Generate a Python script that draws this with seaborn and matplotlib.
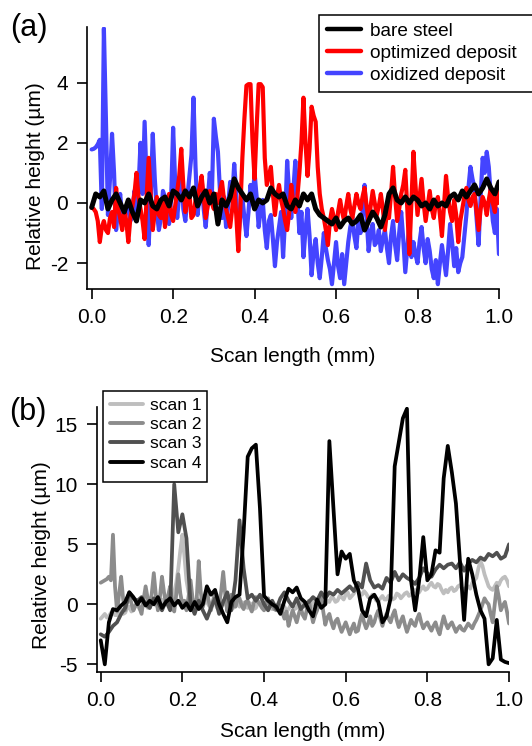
import numpy as np
import pandas as pd
import matplotlib
matplotlib.use("Agg")
import matplotlib.pyplot as plt
from matplotlib.patches import Rectangle
from matplotlib.ticker import FormatStrFormatter
import seaborn as sns

# (a) profiles; bare steel every 0.01 mm, deposits every 0.005 mm
bare_steel = [
    -0.15, 0.3, 0.2, 0.4, -0.2, 0.1, 0.3, 0.0, -0.3, 0.1,
    -0.3, -0.6, 0.1, 0.0, 0.3, -0.1, -0.2, 0.1, 0.2, -0.1,
    0.4, 0.3, 0.1, 0.4, 0.2, 0.5, -0.1, 0.2, 0.4, 0.0,
    0.3, -0.7, 0.1, -0.1, 0.2, 0.8, 0.5, 0.3, 0.1, 0.3,
    -0.2, 0.1, 0.0, 0.1, 0.5, 0.3, 0.2, 0.3, -0.1, -0.2,
    0.1, -0.1, 0.3, 0.1, 0.3, -0.2, -0.4, -0.5, -0.6, -0.7,
    -0.5, -0.8, -0.6, -0.5, -0.7, -0.6, -0.4, -0.9, -0.6, -0.3,
    -0.5, -0.8, -0.4, 0.3, 0.5, 0.1, 0.0, 0.2, 0.0, 0.2,
    0.1, -0.1, 0.0, -0.2, 0.1, -0.1, 0.0, -0.1, 0.2, 0.3,
    0.1, 0.4, 0.2, 0.4, 0.6, 0.3, 0.5, 0.8, 0.5, 0.3,
    0.7]
optimized = [
    -0.15, -0.2, -0.3, -0.6, -1.3, -0.8, -0.6, -0.9, -1.0, -0.5,
    -0.3, -0.8, 0.5, -0.2, -0.5, -0.9, -0.2, -0.6, -1.3, -0.5,
    -0.1, 0.3, 1.0, 0.2, -0.2, -0.6, -1.2, 0.2, 1.5, 0.3,
    -0.9, -0.3, 0.2, -0.4, -0.5, 0.1, -0.8, -0.2, 0.3, -0.4,
    -0.6, -0.1, 0.4, 0.9, 1.8, 0.6, -0.3, 0.2, 0.3, -0.5,
    -0.4, 0.1, 0.2, 0.5, 0.9, 0.2, -0.5, -0.1, 0.4, 0.0,
    -0.2, 0.3, 0.0, 0.4, 0.7, 0.1, -0.2, -0.5, -0.8, -0.2,
    0.5, -0.4, -1.6, -0.2, 1.5, 2.8, 3.9, 3.95, 3.95, 2.0,
    0.8, 2.5, 3.95, 3.95, 3.85, 1.5, 0.6, 0.9, 1.2, 0.3,
    -0.4, 0.2, 0.6, 0.1, -0.2, -0.6, -0.9, -0.3, 0.6, 0.0,
    -0.3, 0.2, 1.0, 2.0, 3.5, 2.0, 0.9, 1.8, 3.2, 2.9,
    2.7, 1.2, 0.3, -0.2, -0.5, -0.9, -1.4, -0.6, -0.2, -0.5,
    -0.9, -0.3, 0.1, -0.3, -0.6, -0.1, 0.3, -0.2, -0.5, -0.1,
    0.3, 0.0, -0.2, 0.2, 0.5, -0.1, -0.6, -0.1, 0.4, 0.0,
    -0.4, -0.1, 0.3, -0.2, -0.9, -0.3, -0.5, 0.3, 1.2, 0.2,
    -0.6, -0.2, 0.3, 0.6, 1.1, -0.2, -1.7, 0.0, 1.7, 0.6,
    -0.4, 0.2, 0.8, 0.0, -0.6, -0.1, 0.4, -0.2, -0.5, 0.0,
    0.2, -0.4, -1.1, -0.1, 0.9, 0.2, -0.3, -0.6, 0.1, -0.4,
    -1.3, -0.6, -0.2, 0.2, 0.5, 0.1, -0.1, 0.2, 0.3, -0.3,
    -0.9, -0.2, 0.2, 0.0, -0.4, 0.1, 0.5, 0.0, -0.3, 0.4,
    0.0]
oxidized = [
    1.78, 1.8, 1.85, 1.95, 2.1, -0.2, 5.8, 2.8, -0.4, 0.8,
    2.3, 1.0, -0.9, -0.2, 0.3, -0.5, -0.7, -0.1, 0.0, -0.6,
    -0.3, 0.4, -0.6, 0.5, 2.0, 0.3, 2.7, 0.6, -1.4, 0.2,
    2.3, 0.8, -0.3, -0.9, -0.5, 0.4, 0.2, -0.2, -0.7, 0.1,
    2.5, 0.7, -0.5, 0.3, 1.3, -0.2, -0.6, 0.2, 0.9, 1.6,
    3.5, 1.2, -0.4, 0.3, 0.8, -0.2, -0.8, 0.1, 1.0, 0.2,
    2.8, 2.2, 1.7, 0.4, -0.5, 0.2, -0.8, -0.1, 0.7, 0.1,
    1.3, 0.3, -1.2, -0.4, 0.2, -0.5, -1.1, -0.3, 0.6, 0.1,
    1.0, 0.2, -0.8, -0.2, 0.1, -0.9, -1.5, -0.6, -0.4, -1.2,
    -2.1, -1.3, -0.8, -0.3, -1.8, -0.5, 1.4, 0.3, -0.5, 0.4,
    1.4, 0.2, -1.0, -0.3, -1.8, -0.9, -0.2, -1.1, -2.4, -1.6,
    -1.2, -2.0, -2.5, -1.8, -1.0, -1.5, -1.9, -2.2, -2.7, -2.0,
    -1.3, -2.1, -2.5, -1.7, -2.7, -2.0, -1.3, -0.8, -0.5, -1.1,
    -1.5, -0.6, -1.0, -0.3, 0.6, -0.5, -1.6, -1.0, -0.7, -1.4,
    -1.3, -0.9, -1.6, -1.2, -0.9, -1.5, -2.0, -1.1, -0.6, -1.4,
    -1.9, -1.0, -0.3, -1.2, -2.3, -1.5, -0.7, -1.8, -1.3, -1.7,
    -2.0, -1.3, -0.8, -1.5, -2.0, -1.2, -1.6, -2.2, -2.5, -1.9,
    -2.7, -2.0, -1.4, -1.9, -2.4, -1.6, -0.7, -1.3, -2.1, -1.5,
    -2.3, -2.0, -1.8, -1.1, -0.4, 0.5, 1.2, 0.8, 0.5, -0.5,
    -1.4, 0.2, 1.5, 1.0, 1.7, 1.2, 0.2, -0.6, -1.0, -0.2,
    -1.7]

# (b) repeated scans; scans 1-2 every 0.005 mm, scans 3-4 every 0.01 mm
scan1 = [
    -1.2, -1.0, -0.8, -1.1, -1.0, -0.7, -0.6, -0.9, -0.9, -0.5,
    -0.4, -0.8, -0.7, -0.3, -0.2, -0.6, -0.5, -0.1, 0.0, -0.4,
    -0.3, 0.1, 0.2, -0.3, -0.2, 0.1, 0.3, -0.1, 0.0, 0.3,
    0.4, 0.0, 0.1, 0.4, 0.2, 0.5, 1.0, 1.8, 3.0, 4.5,
    5.8, 4.0, 2.0, 1.0, 0.5, 0.2, 0.0, 0.5, 0.4, 0.0,
    -0.2, 0.3, 0.2, -0.1, -0.3, 0.2, 0.1, -0.3, -0.1, 0.2,
    0.3, 0.0, -0.2, 0.1, 0.0, -0.3, 0.2, 0.0, -0.2, 0.2,
    0.1, -0.2, -0.3, 0.1, 0.0, -0.4, -0.3, 0.1, 0.2, -0.1,
    -0.2, 0.2, 0.1, -0.3, -0.4, 0.0, -0.1, -0.3, -0.5, -0.1,
    -0.2, -0.6, -0.4, -0.1, 0.0, -0.4, -0.3, 0.1, 0.2, -0.1,
    -0.2, 0.1, 0.0, -0.3, 0.2, 0.0, -0.1, 0.2, 0.3, 0.0,
    0.0, 0.3, 0.2, 0.6, 0.5, 0.2, 0.3, 0.7, 0.6, 0.4,
    0.8, 1.0, 0.5, 0.7, 0.9, 1.3, 1.2, 0.9, 0.8, 1.1,
    0.9, 0.6, 0.5, 0.8, 0.6, 0.3, 0.3, 0.5, 0.7, 0.4,
    0.4, 0.7, 0.6, 0.4, 0.5, 0.9, 0.8, 0.5, 0.7, 0.9,
    1.0, 0.7, 0.8, 1.1, 1.2, 0.9, 1.0, 1.3, 1.5, 1.2,
    1.3, 1.6, 1.8, 1.5, 1.4, 1.7, 1.6, 1.2, 0.9, 1.2,
    1.0, 1.3, 1.4, 1.1, 1.2, 1.5, 1.6, 1.3, 1.2, 1.4,
    1.5, 1.3, 1.8, 2.0, 2.2, 3.0, 3.6, 3.2, 2.5, 2.0,
    1.5, 1.3, 1.2, 1.5, 1.8, 1.6, 2.0, 2.2, 2.3, 2.0,
    1.5]
scan2 = [
    1.8, 1.9, 2.0, 2.1, 2.3, 2.0, 5.8, 1.5, -0.6, 0.8,
    2.3, 0.4, -0.5, 0.2, 0.8, 0.1, -0.5, -0.1, 0.2, -0.3,
    -0.8, 0.4, 1.5, 0.5, -0.3, 0.9, 2.6, 0.8, -0.5, 0.6,
    2.3, 1.0, 0.0, 0.7, 1.5, 0.2, -0.6, 0.8, 2.5, 0.9,
    0.0, 0.3, -0.5, 0.6, 2.0, 0.5, -0.3, 0.4, 3.6, 1.0,
    -0.2, 0.5, 1.2, 0.2, -0.5, 0.3, 1.0, 0.4, 0.0, 1.1,
    2.7, 0.8, -0.6, 0.2, 0.8, 0.2, -0.2, 0.4, 0.5, -0.1,
    -0.4, 0.2, 0.3, -0.2, -0.6, 0.1, 0.6, 0.2, 0.0, -0.3,
    -0.5, 0.1, 0.5, -0.2, 0.1, -0.4, -0.5, 0.0, -0.1, -0.7,
    -1.2, -0.6, -1.8, -1.1, -0.5, -1.0, -1.5, -0.8, -0.3, -0.9,
    -1.2, -0.4, 0.3, -0.7, -1.5, -0.9, -0.5, 0.1, 0.6, -0.6,
    -1.7, -1.1, -0.8, -1.5, -2.0, -1.4, -1.2, -1.8, -2.3, -1.9,
    -1.5, -2.0, -2.5, -2.0, -1.6, -2.3, -2.2, -1.4, -0.8, -1.5,
    -2.0, -1.6, -1.0, -1.8, -1.5, -0.9, -0.5, -1.2, -1.8, -1.2,
    -0.8, -1.2, -1.5, -0.9, -0.5, -1.3, -1.9, -1.4, -1.0, -1.7,
    -2.3, -1.8, -1.3, -1.6, -1.8, -1.2, -0.8, -1.5, -2.0, -1.7,
    -1.5, -1.9, -2.2, -1.8, -1.5, -2.1, -2.5, -1.7, -1.0, -1.6,
    -2.0, -1.7, -1.5, -1.9, -2.3, -2.0, -1.8, -2.1, -2.2, -1.9,
    -1.6, -1.8, -2.0, -1.6, -1.3, -0.9, -0.5, 0.0, 0.5, 0.2,
    0.0, -0.8, -1.5, 0.0, 1.5, 0.6, -0.5, -0.1, 0.2, -0.6,
    -1.6]
scan3 = [
    -2.5, -2.7, -2.3, -1.8, -1.5, -0.8, -0.3, 1.0, 0.5, 0.3,
    0.6, 0.0, -0.3, 0.5, 0.2, -0.5, 0.3, -0.5, 10.0, 6.0,
    7.5, 5.5, 0.0, -0.8, 0.3, -0.5, -1.2, -0.3, 0.5, -0.8,
    0.2, 1.0, -0.5, 2.0, 7.0, 3.0, 0.5, 0.8, 0.3, 0.8,
    0.0, -0.5, 0.3, -0.4, 0.5, 1.0, 0.3, -0.2, 0.5, -0.4,
    0.0, 0.2, 0.6, 0.3, 1.0, 0.5, 1.0, 0.8, 1.2, 0.9,
    1.2, 1.5, 1.1, 1.8, 1.4, 3.4, 2.0, 1.4, 1.6, 1.3,
    2.2, 1.8, 2.7, 2.0, 2.5, 2.2, 2.0, 1.7, 2.2, 3.0,
    2.6, 2.3, 2.9, 3.3, 3.0, 3.3, 3.4, 3.0, 3.5, 2.8,
    3.4, 3.7, 3.5, 3.9, 3.7, 4.2, 4.0, 4.3, 3.8, 4.0,
    5.0]
scan4 = [
    -3.0, -5.0, -1.5, -0.4, -0.5, -0.1, 0.2, 1.0, 0.6, 0.0,
    0.5, -0.1, 0.3, 0.0, 0.6, -0.3, 0.2, 0.5, -0.1, 0.3,
    -0.3, 0.1, -0.5, 0.2, -0.4, 0.0, 1.5, 0.8, 1.2, 0.0,
    -0.8, -1.5, 0.2, 0.6, 0.8, 6.0, 12.3, 13.0, 13.3, 8.0,
    0.7, 0.3, 0.0, -0.2, -0.8, 0.3, 1.3, 1.0, 1.4, 0.5,
    0.2, -0.5, -1.0, 0.4, -0.3, 0.0, 13.6, 8.0, 2.5, 4.4,
    3.8, 4.2, 2.0, 1.3, -0.5, -1.0, 0.5, 0.8, 0.2, -1.5,
    -1.0, 0.5, 11.5, 13.5, 15.5, 16.3, 2.0, -0.5, 2.0, 5.6,
    2.0, 2.5, 4.5, 4.3, 10.5, 13.2, 11.0, 8.4, 3.5, -1.3,
    3.8, 2.5, 0.8, -0.5, -1.2, -5.0, -4.5, -1.3, -4.6, -4.8,
    -4.9]

labels_a = ["bare steel", "optimized deposit", "oxidized deposit"]
labels_b = ["scan 1", "scan 2", "scan 3", "scan 4"]
x_ticks = [0.0, 0.2, 0.4, 0.6, 0.8, 1.0]

sns.set_style("ticks", {"axes.edgecolor": "black", "xtick.color": "black",
                        "ytick.color": "black", "text.color": "black",
                        "axes.labelcolor": "black"})
plt.rcParams["font.family"] = ["Liberation Sans", "DejaVu Sans"]
plt.rcParams["axes.unicode_minus"] = False

W, H = 532, 746
fig = plt.figure(figsize=(W / 100, H / 100), dpi=100)
ax_a = fig.add_axes([0.1635, 0.6126, 0.7744, 0.3512])
ax_b = fig.add_axes([0.1818, 0.0992, 0.7750, 0.3552])

# draw order: blue under red under black
series_a = [("oxidized deposit", oxidized, "#4444ff", 3.0),
            ("optimized deposit", optimized, "#ff0000", 3.0),
            ("bare steel", bare_steel, "black", 3.6)]
for name, vals, c, lw in series_a:
    xs = np.linspace(0, 1, len(vals))
    sns.lineplot(x=xs, y=vals, color=c, linewidth=lw, label=name,
                 estimator=None, sort=False, ax=ax_a)

series_b = [("scan 1", scan1, "#bebebe"), ("scan 2", scan2, "#8c8c8c"),
            ("scan 3", scan3, "#505050"), ("scan 4", scan4, "black")]
for name, vals, c in series_b:
    xs = np.linspace(0, 1, len(vals))
    sns.lineplot(x=xs, y=vals, color=c, linewidth=2.7, label=name,
                 estimator=None, sort=False, ax=ax_b)

ax_a.set_xlim(-0.0115, 1.0)
ax_a.set_ylim(-2.86, 5.85)
ax_a.set_yticks([-2, 0, 2, 4])
ax_b.set_xlim(-0.0098, 1.0)
ax_b.set_ylim(-5.64, 16.44)
ax_b.set_yticks([-5, 0, 5, 10, 15])

for ax in (ax_a, ax_b):
    sns.despine(ax=ax)
    for sp in ("left", "bottom"):
        ax.spines[sp].set_linewidth(1.2)
    ax.set_xticks(x_ticks)
    ax.xaxis.set_major_formatter(FormatStrFormatter("%.1f"))
    ax.tick_params(direction="out", length=7.5, width=1.2, labelsize=15)
    ax.tick_params(axis="x", pad=6.5)
    ax.tick_params(axis="y", pad=6)
    ax.set_xlabel("Scan length (mm)", fontsize=15, va="center")
    ax.set_ylabel("Relative height (µm)", fontsize=15, va="center")

ax_a.xaxis.set_label_coords(0.5, -0.2595)
ax_a.yaxis.set_label_coords(-0.126, 0.431)
ax_b.xaxis.set_label_coords(0.5, -0.2264)
ax_b.yaxis.set_label_coords(-0.135, 0.4415)


def legend_box(ax, x0, y0, x1, y1):
    # white legend frame in figure pixels (top-left origin)
    ax.add_patch(Rectangle((x0 / W, 1 - y1 / H), (x1 - x0) / W, (y1 - y0) / H,
                           transform=fig.transFigure, clip_on=False,
                           facecolor="white", edgecolor="black",
                           linewidth=1.1, zorder=4))


legend_box(ax_a, 319, 15, 560, 92)
h, l = ax_a.get_legend_handles_labels()
order = [l.index(n) for n in labels_a]
leg = ax_a.legend([h[i] for i in order], labels_a, loc="upper left",
                  bbox_to_anchor=(326.7 / W, 1 - 22.5 / H),
                  bbox_transform=fig.transFigure, borderaxespad=0,
                  borderpad=0, frameon=False, fontsize=13.7,
                  handlelength=1.8, handletextpad=0.47, labelspacing=0.24)
for ln in leg.get_lines():
    ln.set_linewidth(3.2)

legend_box(ax_b, 102.7, 391, 206.7, 482)
h, l = ax_b.get_legend_handles_labels()
leg = ax_b.legend(h, labels_b, loc="upper left",
                  bbox_to_anchor=(110 / W, 1 - 397.5 / H),
                  bbox_transform=fig.transFigure, borderaxespad=0,
                  borderpad=0, frameon=False, fontsize=12.5,
                  handlelength=1.9, handletextpad=0.42, labelspacing=0.24)
for ln in leg.get_lines():
    ln.set_linewidth(2.8)

fig.text(10 / W, 1 - 28 / H, "(a)", fontsize=22, va="center", ha="left")
fig.text(9 / W, 1 - 412 / H, "(b)", fontsize=22, va="center", ha="left")

fig.savefig("out.png", dpi=100)
